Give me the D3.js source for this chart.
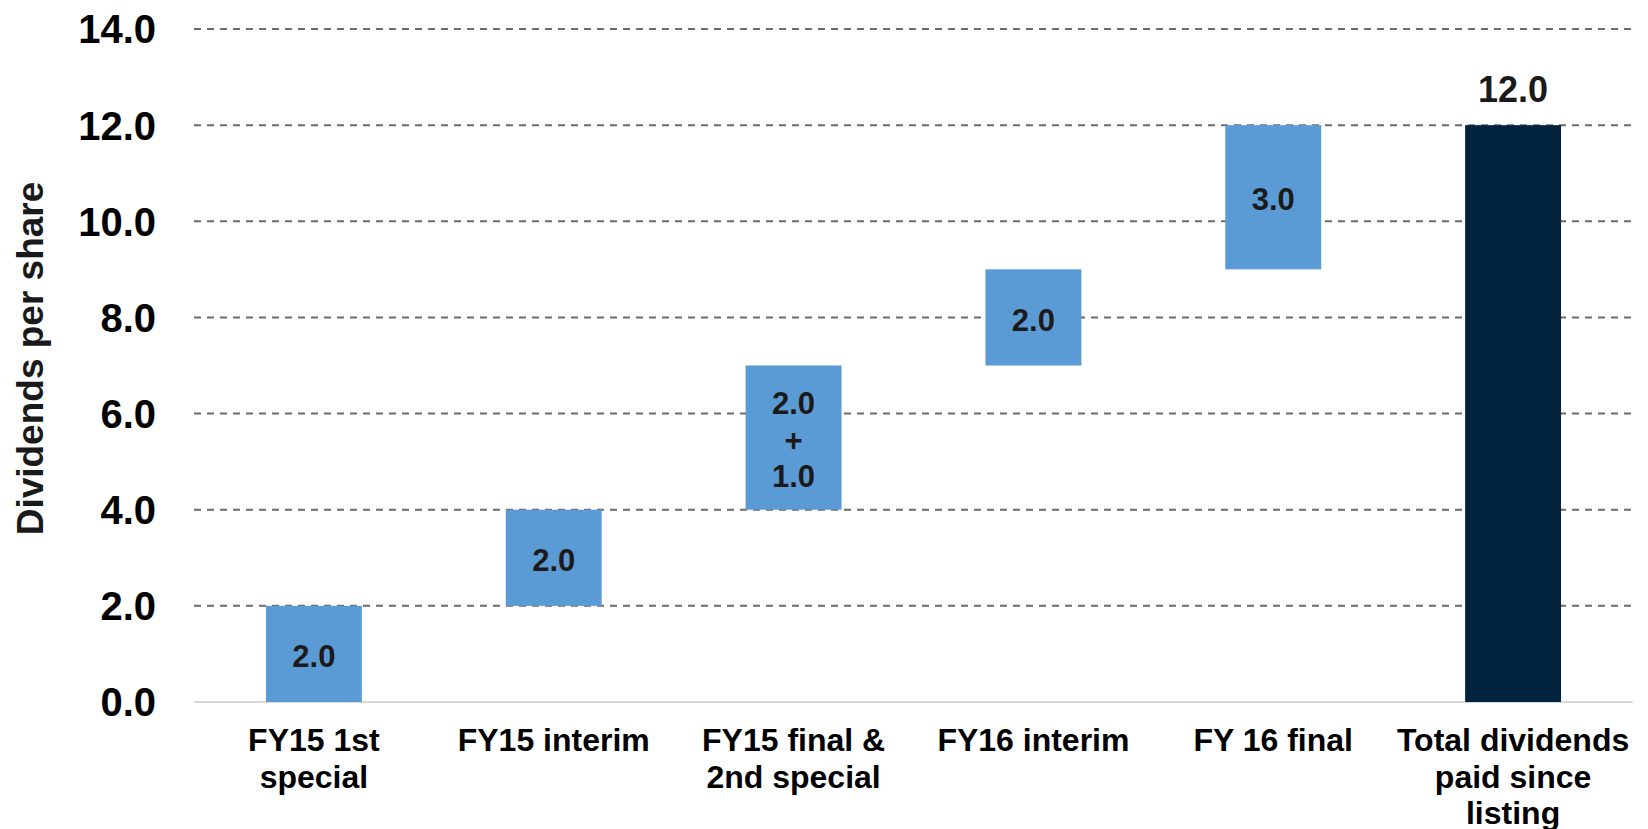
<!DOCTYPE html>
<html>
<head>
<meta charset="utf-8">
<script src="https://cdn.jsdelivr.net/npm/d3@7"></script>
<style>
  html, body { margin: 0; padding: 0; background: #fff; }
  text { font-family: "Liberation Sans", Arial, sans-serif; font-weight: bold; }
</style>
</head>
<body>
<div id="chart"></div>
<script>
// categories, one entry per line of the label
const categories = [
  ['FY15 1st', 'special'],
  ['FY15 interim'],
  ['FY15 final &', '2nd special'],
  ['FY16 interim'],
  ['FY 16 final'],
  ['Total dividends', 'paid since', 'listing']
];
// dividend parts paid in each step (third step is final + special)
const dividendParts = [[2.0], [2.0], [2.0, 1.0], [2.0], [3.0]];
const yTicks = [0, 2, 4, 6, 8, 10, 12, 14];
const yTitle = 'Dividends per share';

const width = 1648;
const height = 829;
const margin = {top: 29, right: 15, bottom: 127, left: 194};

const svg = d3.select('#chart').append('svg')
  .attr('width', width)
  .attr('height', height);

const x = d3.scaleBand()
  .domain(categories.map((d, i) => i))
  .range([margin.left, width - margin.right])
  .paddingInner(0.6)
  .paddingOuter(0.3);

const y = d3.scaleLinear()
  .domain([0, 14])
  .range([height - margin.bottom, margin.top]);

// build waterfall steps
let running = 0;
const steps = dividendParts.map((parts, i) => {
  const value = d3.sum(parts);
  const step = {i, start: running, end: running + value, parts, total: false};
  running += value;
  return step;
});
steps.push({i: categories.length - 1, start: 0, end: running, parts: [running], total: true});

// gridlines
svg.append('g').classed('grid', true)
  .selectAll('line')
  .data(yTicks.filter(d => d > 0))
  .enter()
  .append('line')
  .attr('x1', margin.left)
  .attr('x2', width - margin.right)
  .attr('y1', d => y(d))
  .attr('y2', d => y(d))
  .style('stroke', '#6b6b6b')
  .style('stroke-width', 2)
  .style('stroke-dasharray', '7,6');

// baseline
svg.append('line')
  .attr('x1', margin.left)
  .attr('x2', width - margin.right)
  .attr('y1', y(0))
  .attr('y2', y(0))
  .style('stroke', '#d9d9d9')
  .style('stroke-width', 2);

// y tick labels
svg.append('g').classed('y-labels', true)
  .selectAll('text')
  .data(yTicks)
  .enter()
  .append('text')
  .attr('x', 156)
  .attr('y', d => y(d))
  .attr('dy', '0.36em')
  .attr('text-anchor', 'end')
  .style('font-size', '40px')
  .style('fill', '#000')
  .text(d => d3.format('.1f')(d));

// y axis title
svg.append('text')
  .attr('transform', `translate(43, ${(y(0) + y(14)) / 2 - 7}) rotate(-90)`)
  .attr('text-anchor', 'middle')
  .style('font-size', '37px')
  .style('fill', '#1a1a1a')
  .text(yTitle);

// bars
svg.append('g').classed('bars', true)
  .selectAll('rect')
  .data(steps)
  .enter()
  .append('rect')
  .attr('x', d => x(d.i))
  .attr('width', x.bandwidth())
  .attr('y', d => y(d.end))
  .attr('height', d => y(d.start) - y(d.end))
  .style('fill', d => d.total ? '#02233e' : '#5b9bd5');

// value labels inside the steps
const lineGap = 36.5;
steps.filter(d => !d.total).forEach(d => {
  const lines = [];
  d.parts.forEach((p, k) => {
    if (k > 0) lines.push('+');
    lines.push(d3.format('.1f')(p));
  });
  const cy = (y(d.start) + y(d.end)) / 2;
  svg.append('g').selectAll('text')
    .data(lines)
    .enter()
    .append('text')
    .attr('x', x(d.i) + x.bandwidth() / 2)
    .attr('y', (t, k) => cy + 2 + (k - (lines.length - 1) / 2) * lineGap)
    .attr('dy', '0.36em')
    .attr('text-anchor', 'middle')
    .style('font-size', '31px')
    .style('fill', '#1a1a1a')
    .text(t => t);
});

// total label above the total bar
const totalStep = steps[steps.length - 1];
svg.append('text')
  .attr('x', x(totalStep.i) + x.bandwidth() / 2)
  .attr('y', y(totalStep.end) - 23)
  .attr('text-anchor', 'middle')
  .style('font-size', '36px')
  .style('fill', '#1a1a1a')
  .text(d3.format('.1f')(totalStep.end));

// category labels
const cat = svg.append('g').classed('x-labels', true)
  .selectAll('text')
  .data(categories)
  .enter()
  .append('text')
  .attr('x', (d, i) => x(i) + x.bandwidth() / 2)
  .attr('y', 751)
  .attr('text-anchor', 'middle')
  .style('font-size', '32px')
  .style('fill', '#000');

cat.selectAll('tspan')
  .data(d => d)
  .enter()
  .append('tspan')
  .attr('x', function() { return d3.select(this.parentNode).attr('x'); })
  .attr('dy', (d, k) => k === 0 ? 0 : 36.5)
  .text(d => d);
</script>
</body>
</html>
